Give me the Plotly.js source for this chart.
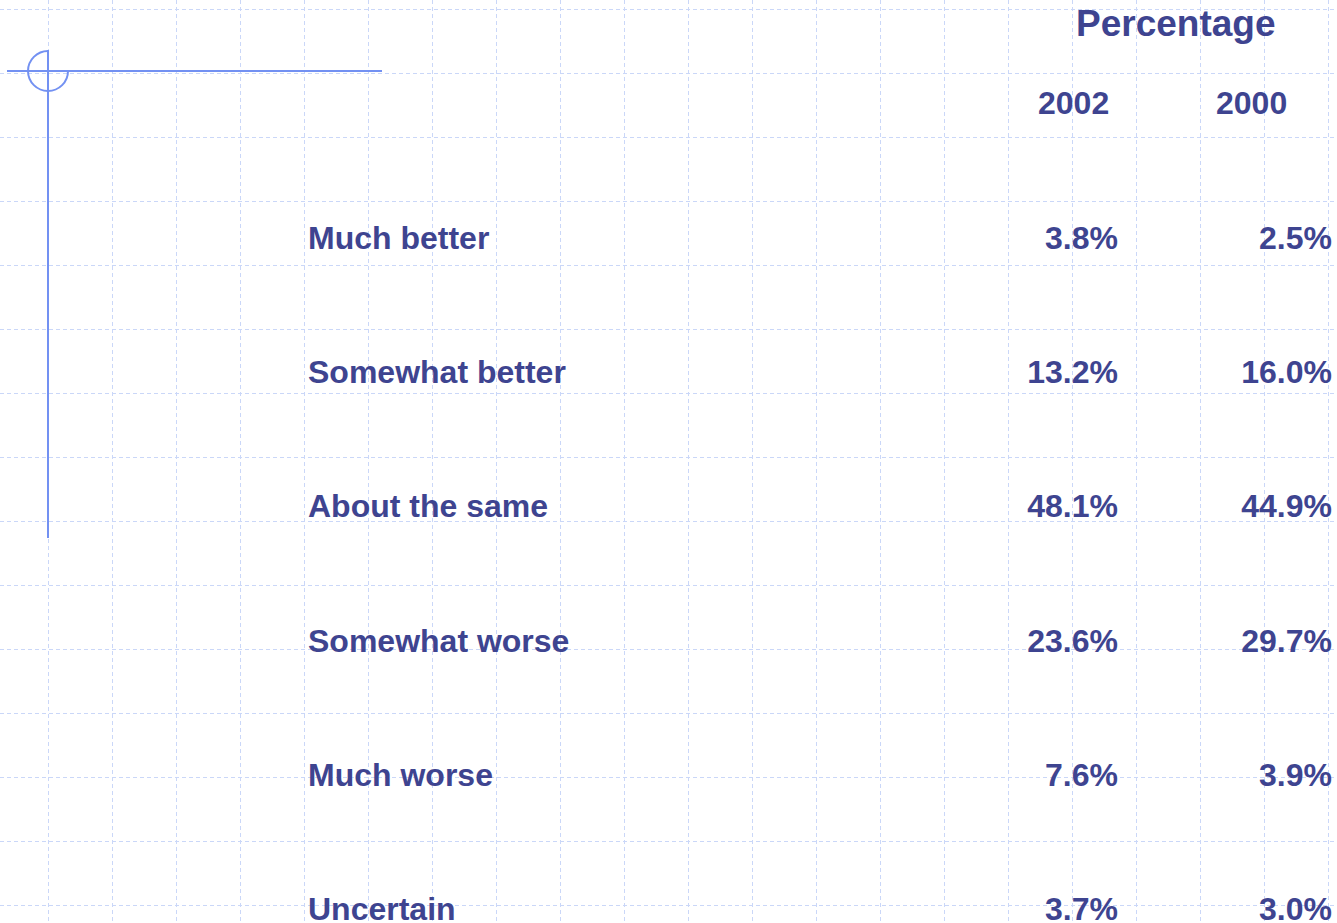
<!DOCTYPE html>
<html>
<head>
<meta charset="utf-8">
<script src="https://cdn.plot.ly/plotly-3.0.1.min.js"></script>
<style>html,body{margin:0;padding:0;background:#fff;}#chart{width:1337px;height:923px;}</style>
</head>
<body>
<div id="chart"></div>
<script>
const categories = ['Much better', 'Somewhat better', 'About the same', 'Somewhat worse', 'Much worse', 'Uncertain'];
const values2002 = [3.8, 13.2, 48.1, 23.6, 7.6, 3.7];
const values2000 = [2.5, 16.0, 44.9, 29.7, 3.9, 3.0];
const years = ['2002', '2000'];
const headerTitle = 'Percentage';

const textColor = '#3e4490';
const accent = '#7391f2';
const gridColor = '#cad7f8';
const fontFamily = 'Liberation Sans, Arial, sans-serif';
const rowFont = {family: fontFamily, size: 32, color: textColor, weight: 700};

const labelX = 308;
const colRight = [1118, 1332];
const yearX = [1073, 1251];

const fmt = v => v.toFixed(1) + '%';

const traces = [
  {
    type: 'scatter', mode: 'text', x: categories.map(() => labelX), y: categories,
    text: categories, textposition: 'middle right', textfont: rowFont,
    xaxis: 'x', yaxis: 'y2', hoverinfo: 'skip', showlegend: false, cliponaxis: false
  },
  {
    type: 'scatter', mode: 'text', x: categories.map(() => colRight[0]), y: categories,
    text: values2002.map(fmt), textposition: 'middle left', textfont: rowFont,
    xaxis: 'x', yaxis: 'y2', hoverinfo: 'skip', showlegend: false, cliponaxis: false
  },
  {
    type: 'scatter', mode: 'text', x: categories.map(() => colRight[1]), y: categories,
    text: values2000.map(fmt), textposition: 'middle left', textfont: rowFont,
    xaxis: 'x', yaxis: 'y2', hoverinfo: 'skip', showlegend: false, cliponaxis: false
  }
];

const annotations = years.map((yr, i) => ({
  text: yr, x: yearX[i], y: 103, xref: 'x', yref: 'y', showarrow: false,
  xanchor: 'center', yanchor: 'middle', font: rowFont
}));
annotations.push({
  text: headerTitle, x: 1176, y: 23, xref: 'x', yref: 'y', showarrow: false,
  xanchor: 'center', yanchor: 'middle',
  font: {family: fontFamily, size: 37, color: textColor, weight: 700}
});

const k = 0.5523 * 20;
const cx = 48, cy = 71, r = 20;
const arcPath = `M ${cx} ${cy - r} C ${cx - k} ${cy - r}, ${cx - r} ${cy - k}, ${cx - r} ${cy} ` +
  `C ${cx - r} ${cy + k}, ${cx - k} ${cy + r}, ${cx} ${cy + r} ` +
  `C ${cx + k} ${cy + r}, ${cx + r} ${cy + k}, ${cx + r} ${cy}`;

const shapes = [
  {type: 'line', xref: 'x', yref: 'y', x0: 7, x1: 382, y0: 71, y1: 71, line: {color: accent, width: 2}},
  {type: 'line', xref: 'x', yref: 'y', x0: 48, x1: 48, y0: 50, y1: 538, line: {color: accent, width: 2}},
  {type: 'path', xref: 'x', yref: 'y', path: arcPath, line: {color: accent, width: 2}}
];

const rowStep = 134.2, firstRow = 241;
const layout = {
  width: 1337, height: 923,
  margin: {l: 0, r: 0, t: 0, b: 0},
  paper_bgcolor: '#ffffff', plot_bgcolor: '#ffffff',
  showlegend: false,
  xaxis: {
    range: [0, 1337], showgrid: true, gridcolor: gridColor, griddash: '4px,3px', gridwidth: 1,
    tick0: 48, dtick: 64, showticklabels: false, zeroline: false, showline: false, ticks: '', fixedrange: true
  },
  yaxis: {
    range: [923, 0], showgrid: true, gridcolor: gridColor, griddash: '4px,3px', gridwidth: 1,
    tick0: 9, dtick: 64, showticklabels: false, zeroline: false, showline: false, ticks: '', fixedrange: true
  },
  yaxis2: {
    overlaying: 'y', type: 'category', categoryarray: categories, categoryorder: 'array',
    range: [(923 - firstRow) / rowStep, -firstRow / rowStep],
    showgrid: false, showticklabels: false, zeroline: false, showline: false, ticks: '', fixedrange: true
  },
  shapes: shapes,
  annotations: annotations
};

Plotly.newPlot('chart', traces, layout, {staticPlot: true, displayModeBar: false});
</script>
</body>
</html>
